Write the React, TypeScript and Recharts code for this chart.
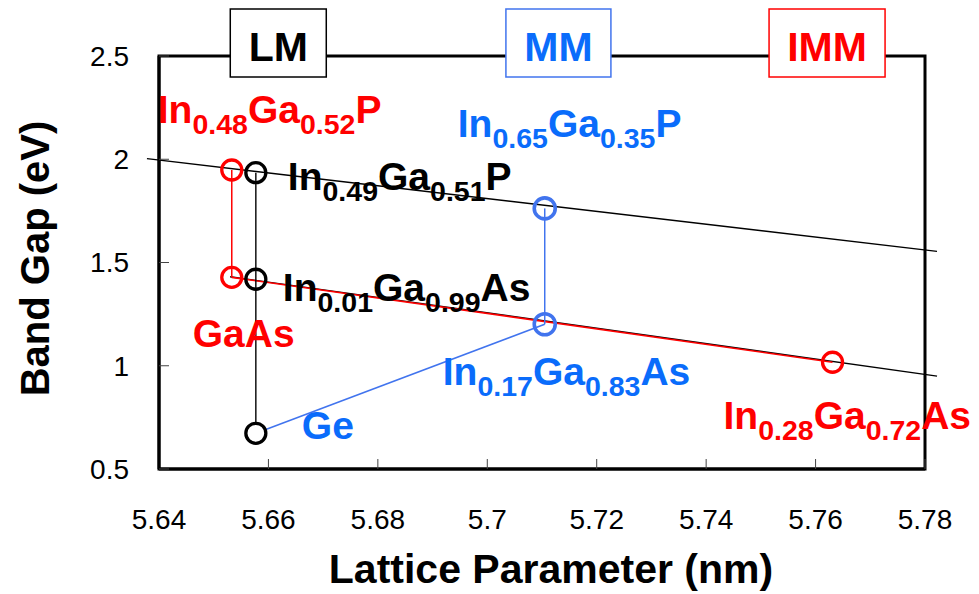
import { ComposedChart, Line, Scatter, XAxis, YAxis, ReferenceLine, ReferenceDot, ReferenceArea } from 'recharts';

const FONT = '"Liberation Sans", Arial, Helvetica, sans-serif';
const RED = '#ff0000';
const BLUE = '#4174ee';
const BLUE_TEXT = '#0a6cfb';
const SUB_DROP = 11;

const latticeTicks = [5.64, 5.66, 5.68, 5.7, 5.72, 5.74, 5.76, 5.78];
const gapTicks = [0.5, 1, 1.5, 2, 2.5];

// a = lattice parameter (nm), eg = band gap (eV)
const lmPoints = [
  { a: 5.6577, eg: 1.935 }, // In0.49Ga0.51P
  { a: 5.6577, eg: 1.419 }, // In0.01Ga0.99As
];
const gePoint = [{ a: 5.6577, eg: 0.673 }];
const mmPoints = [
  { a: 5.7105, eg: 1.762 }, // In0.65Ga0.35P
  { a: 5.7105, eg: 1.201 }, // In0.17Ga0.83As
];
const immPoints = [
  { a: 5.6533, eg: 1.948 }, // In0.48Ga0.52P
  { a: 5.6533, eg: 1.428 }, // GaAs
  { a: 5.7631, eg: 1.017 }, // In0.28Ga0.72As
];

// InGaP and InGaAs composition lines
const phosphideLine = [{ a: 5.6378, eg: 2.003 }, { a: 5.7822, eg: 1.554 }];
const arsenideLine = [{ a: 5.653, eg: 1.431 }, { a: 5.7822, eg: 0.95 }];

// cell stacks
const lmStack = [lmPoints[0], gePoint[0]];
const mmStack = [mmPoints[0], mmPoints[1]];
const geToMm = [gePoint[0], mmPoints[1]];
const immStack = [immPoints[0], immPoints[1]];
const immGrade = [immPoints[1], immPoints[2]];

const formulaLabels = [
  { parts: ['In', '0.48', 'Ga', '0.52', 'P'], at: immPoints[0], color: RED, dx: -74, dy: -47 },
  { parts: ['In', '0.65', 'Ga', '0.35', 'P'], at: mmPoints[0], color: BLUE_TEXT, dx: -87, dy: -71 },
  { parts: ['In', '0.49', 'Ga', '0.51', 'P'], at: lmPoints[0], color: '#000', dx: 32, dy: 17 },
  { parts: ['In', '0.01', 'Ga', '0.99', 'As'], at: lmPoints[1], color: '#000', dx: 27, dy: 22 },
  { parts: ['GaAs'], at: immPoints[1], color: RED, dx: -39, dy: 70 },
  { parts: ['In', '0.17', 'Ga', '0.83', 'As'], at: mmPoints[1], color: BLUE_TEXT, dx: -102, dy: 61 },
  { parts: ['Ge'], at: gePoint[0], color: BLUE_TEXT, dx: 46, dy: 6 },
  { parts: ['In', '0.28', 'Ga', '0.72', 'As'], at: immPoints[2], color: RED, dx: -109, dy: 67 },
];

const boxLabels = [
  { text: 'LM', a: 5.6618, w: 96, color: '#000', border: '#000' },
  { text: 'MM', a: 5.713, w: 105, color: BLUE_TEXT, border: BLUE },
  { text: 'IMM', a: 5.7621, w: 116, color: RED, border: RED },
];

function Formula({ x, y, parts, color }: { x: number; y: number; parts: string[]; color: string }) {
  return (
    <text x={x} y={y} fill={color} fontFamily={FONT} fontWeight="bold" fontSize={39}>
      {parts.map((p, i) =>
        i % 2 === 0 ? (
          <tspan key={i} dy={i === 0 ? 0 : -SUB_DROP}>{p}</tspan>
        ) : (
          <tspan key={i} dy={SUB_DROP} fontSize={28.5}>{p}</tspan>
        ),
      )}
    </text>
  );
}

const ring = (stroke: string, fill = 'none', r = 10, sw = 3.3) => (props: any) => (
  <circle cx={props.cx} cy={props.cy} r={r} fill={fill} stroke={stroke} strokeWidth={sw} />
);

export default function App() {
  return (
    <div style={{ position: 'absolute', left: 0, top: 0, background: '#fff' }}>
      <ComposedChart width={979} height={594} margin={{ top: 56, right: 54, bottom: 0, left: 0 }}>
        <XAxis
          type="number"
          dataKey="a"
          domain={[5.64, 5.78]}
          ticks={latticeTicks}
          interval={0}
          height={125}
          axisLine={{ stroke: '#000', strokeWidth: 3 }}
          tickLine={{ stroke: '#444', strokeWidth: 1 }}
          tickSize={-10}
          tickMargin={50}
          tick={{ fill: '#000', fontSize: 28, fontFamily: FONT }}
          label={(p: any) => (
            <text
              x={p.viewBox.x + p.viewBox.width / 2 + 9}
              y={p.viewBox.y + 114}
              textAnchor="middle"
              fontFamily={FONT}
              fontWeight="bold"
              fontSize={41}
              fill="#000"
            >
              Lattice Parameter (nm)
            </text>
          )}
        />
        <YAxis
          type="number"
          dataKey="eg"
          domain={[0.5, 2.5]}
          ticks={gapTicks}
          interval={0}
          width={159}
          axisLine={{ stroke: '#000', strokeWidth: 3 }}
          tickLine={{ stroke: '#444', strokeWidth: 1 }}
          tickSize={-10}
          tickMargin={40}
          tick={{ fill: '#000', fontSize: 28, fontFamily: FONT }}
          label={(p: any) => {
            const cx = p.viewBox.x + 35;
            const cy = p.viewBox.y + p.viewBox.height / 2 - 4;
            return (
              <text
                x={cx}
                y={cy}
                transform={`rotate(-90, ${cx}, ${cy})`}
                textAnchor="middle"
                dominantBaseline="central"
                fontFamily={FONT}
                fontWeight="bold"
                fontSize={40}
                fill="#000"
              >
                Band Gap (eV)
              </text>
            );
          }}
        />

        <ReferenceArea x1={5.64} x2={5.78} y1={0.5} y2={2.5} fill="none" stroke="#000" strokeWidth={3} />

        <ReferenceLine
          segment={[{ x: phosphideLine[0].a, y: phosphideLine[0].eg }, { x: phosphideLine[1].a, y: phosphideLine[1].eg }]}
          ifOverflow="visible"
          stroke="#000"
          strokeWidth={1.4}
        />
        <ReferenceLine
          segment={[{ x: arsenideLine[0].a, y: arsenideLine[0].eg }, { x: arsenideLine[1].a, y: arsenideLine[1].eg }]}
          ifOverflow="visible"
          stroke="#000"
          strokeWidth={1.4}
        />

        <Line data={immGrade} dataKey="eg" type="linear" stroke={RED} strokeWidth={1.6} dot={false} isAnimationActive={false} />
        <Line data={immStack} dataKey="eg" type="linear" stroke={RED} strokeWidth={1.5} dot={false} isAnimationActive={false} />
        <Line data={lmStack} dataKey="eg" type="linear" stroke="#000" strokeWidth={1.4} dot={false} isAnimationActive={false} />
        <Line data={mmStack} dataKey="eg" type="linear" stroke={BLUE} strokeWidth={1.5} dot={false} isAnimationActive={false} />
        <Line data={geToMm} dataKey="eg" type="linear" stroke={BLUE} strokeWidth={1.5} dot={false} isAnimationActive={false} />

        <Scatter data={immPoints} shape={ring(RED)} isAnimationActive={false} />
        <Scatter data={lmPoints} shape={ring('#000')} isAnimationActive={false} />
        <Scatter data={gePoint} shape={ring('#000', '#fff')} isAnimationActive={false} />
        <Scatter data={mmPoints} shape={ring(BLUE, 'none', 10.5, 3.6)} isAnimationActive={false} />

        {formulaLabels.map((f, i) => (
          <ReferenceDot
            key={`f${i}`}
            x={f.at.a}
            y={f.at.eg}
            r={0}
            ifOverflow="visible"
            label={(p: any) => <Formula x={p.viewBox.x + f.dx} y={p.viewBox.y + f.dy} parts={f.parts} color={f.color} />}
          />
        ))}

        {boxLabels.map((b) => (
          <ReferenceDot
            key={b.text}
            x={b.a}
            y={2.5}
            r={0}
            ifOverflow="visible"
            label={(p: any) => (
              <g>
                <rect x={p.viewBox.x - b.w / 2} y={p.viewBox.y - 47} width={b.w} height={68} fill="#fff" stroke={b.border} strokeWidth={1.5} />
                <text
                  x={p.viewBox.x}
                  y={p.viewBox.y + 5}
                  textAnchor="middle"
                  fontFamily={FONT}
                  fontWeight="bold"
                  fontSize={41}
                  fill={b.color}
                >
                  {b.text}
                </text>
              </g>
            )}
          />
        ))}
      </ComposedChart>
    </div>
  );
}
